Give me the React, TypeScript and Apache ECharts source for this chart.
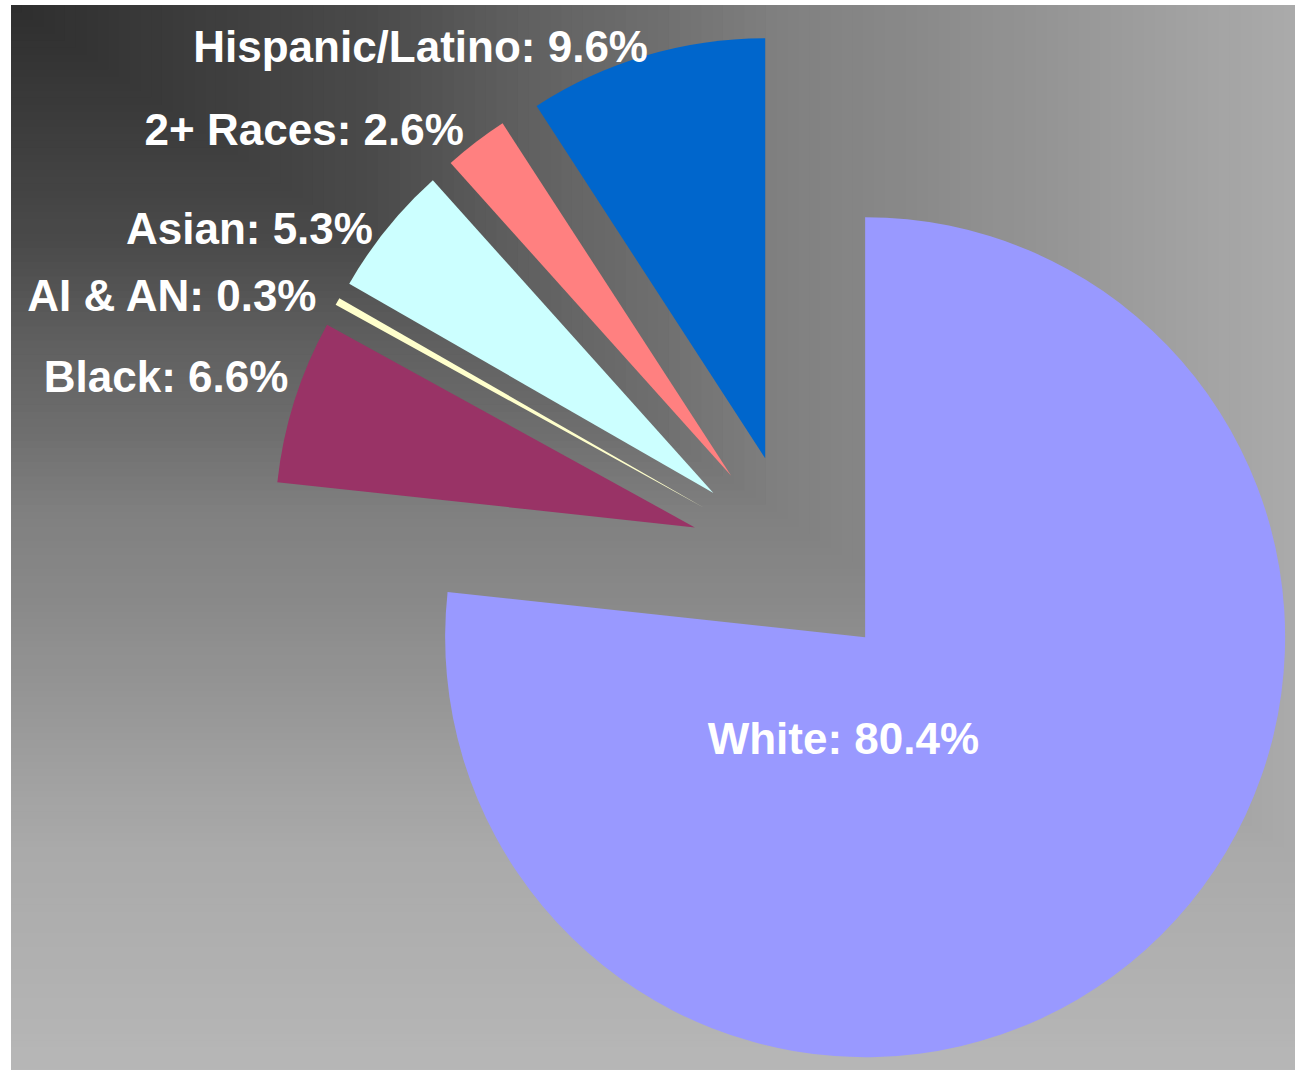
import React, { useEffect, useRef } from "react";
import * as echarts from "echarts";

const categories = ["Hispanic/Latino", "2+ Races", "Asian", "AI & AN", "Black", "White"];
const values = [9.6, 2.6, 5.3, 0.3, 6.6, 80.4];
const sliceColors = ["#0066cc", "#ff8080", "#ccffff", "#ffffcc", "#993366", "#9999ff"];

// background shading: grey level vs normalised rectangular distance from top-left corner
const bgStops: [number, number][] = [
  [0, 46],
  [0.14, 60],
  [0.28, 74],
  [0.4, 96],
  [0.5, 110],
  [0.6, 128],
  [0.7, 137],
  [0.8, 148],
  [0.9, 160],
  [1.0, 170],
  [1.26, 183],
];

function grey(t: number) {
  let v = bgStops[bgStops.length - 1][1];
  for (let i = 0; i < bgStops.length - 1; i++) {
    const [t0, v0] = bgStops[i];
    const [t1, v1] = bgStops[i + 1];
    if (t <= t1) {
      v = v0 + ((v1 - v0) * (t - t0)) / (t1 - t0);
      break;
    }
  }
  const c = Math.round(v);
  return `rgb(${c},${c},${c})`;
}

export default function App() {
  const ref = useRef<HTMLDivElement>(null);
  useEffect(() => {
    document.body.style.margin = "0";
    const chart = echarts.init(ref.current!, null, { renderer: "svg" });

    const bgX = 11, bgY = 5, bgW = 1284, bgH = 1065;
    const effW = 1284, effH = 850;
    const maxT = 1.26;
    const steps = 150;
    const rects: any[] = [
      { type: "rect", shape: { x: bgX, y: bgY, width: bgW, height: bgH }, style: { fill: grey(maxT) }, silent: true },
    ];
    for (let i = steps; i >= 1; i--) {
      const t = (i / steps) * maxT;
      rects.push({
        type: "rect",
        shape: {
          x: bgX,
          y: bgY,
          width: Math.min(bgW, effW * t),
          height: Math.min(bgH, effH * t),
        },
        style: { fill: grey(t - 0.5 * (maxT / steps)) },
        silent: true,
      });
    }

    const data = categories.map((name, i) => {
      const item: any = {
        name,
        value: values[i],
        selected: true,
        itemStyle: { color: sliceColors[i] },
      };
      if (name === "White") item.label = { position: "inside" };
      return item;
    });

    const nudges: Record<string, [number, number]> = {
      "Hispanic/Latino": [12, -9],
      "2+ Races": [-2, -13],
      Asian: [-4, 0],
      "AI & AN": [-11, -6],
      Black: [4, -24],
      White: [-164, -57],
    };

    chart.setOption({
      animation: false,
      graphic: [{ type: "group", z: -10, silent: true, children: rects }],
      series: [
        {
          type: "pie",
          center: [795, 559],
          radius: 420,
          startAngle: 90,
          clockwise: false,
          selectedMode: "multiple",
          selectedOffset: 105,
          avoidLabelOverlap: false,
          itemStyle: { borderWidth: 0 },
          emphasis: { disabled: true },
          label: {
            show: true,
            position: "outside",
            formatter: "{b}: {c}%",
            distanceToLabelLine: 10,
            color: "#ffffff",
            fontFamily: "'Liberation Sans', Arial, sans-serif",
            fontWeight: "bold",
            fontSize: 44,
          },
          labelLine: { show: false, length: 0, length2: 0 },
          labelLayout: (p: any) => {
            const n = nudges[categories[p.dataIndex]] || [0, 0];
            return { dx: n[0], dy: n[1] };
          },
          data,
        },
      ],
    });
    return () => chart.dispose();
  }, []);
  return <div ref={ref} style={{ width: 1295, height: 1072 }} />;
}
